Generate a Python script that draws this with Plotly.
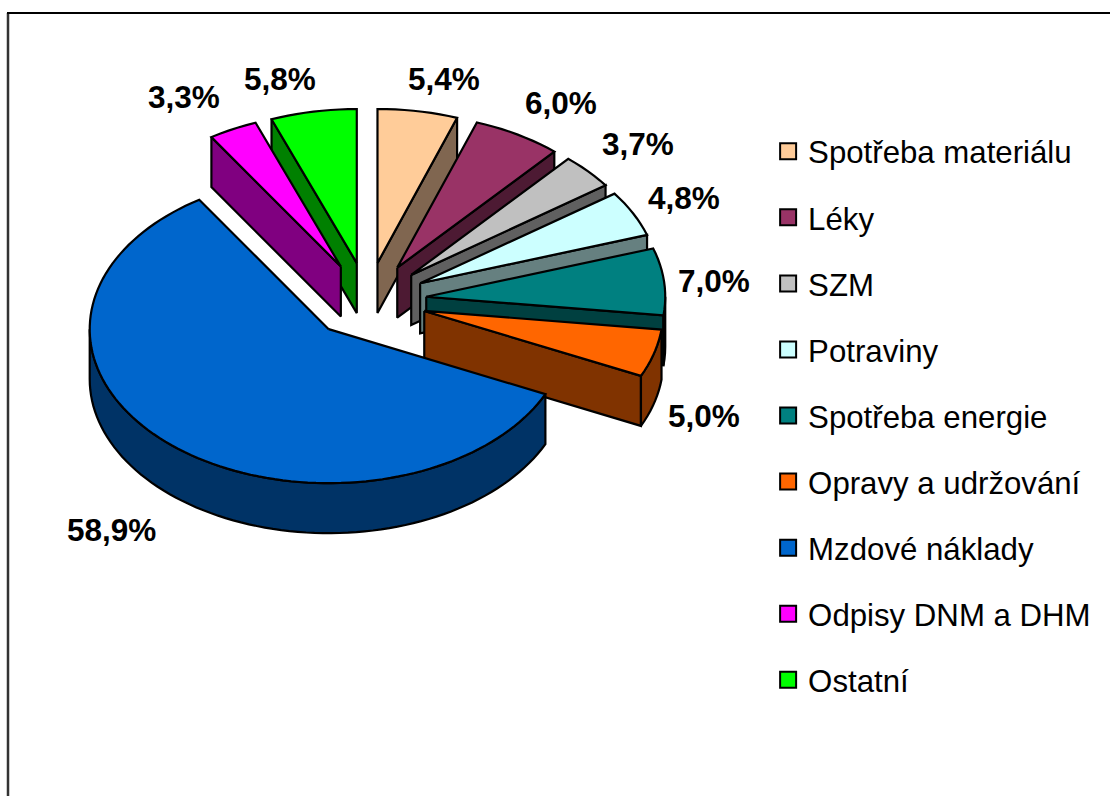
import math
import plotly.graph_objects as go

categories = ["Spotřeba materiálu", "Léky", "SZM", "Potraviny", "Spotřeba energie",
              "Opravy a udržování", "Mzdové náklady", "Odpisy DNM a DHM", "Ostatní"]
values = [5.4, 6.0, 3.7, 4.8, 7.0, 5.0, 58.9, 3.3, 5.8]
colors = ["#FFCC99", "#993366", "#C0C0C0", "#CCFFFF", "#008080",
          "#FF6600", "#0066CC", "#FF00FF", "#00FF00"]
wall_colors = ["#806650", "#4D1A33", "#606060", "#668080", "#004040",
               "#803300", "#003366", "#800080", "#008000"]
label_positions = [(444, 79), (561, 103), (638, 144), (684, 198), (714, 281),
                   (704, 416), (111, 530), (184, 97), (280, 79)]

CX, CY, RX, RY, DEPTH, EXPLODE = 367.5, 300.5, 239, 154, 50, 0.247
FONT = "Liberation Sans, Arial, sans-serif"


def pt(cx, cy, deg, dz=0):
    a = math.radians(deg)
    return cx + RX * math.sin(a), cy - RY * math.cos(a) + dz


def arc(cx, cy, a0, a1, dz=0):
    n = max(2, int(abs(a1 - a0) / 2))
    return [pt(cx, cy, a0 + (a1 - a0) * i / n, dz) for i in range(n + 1)]


fig = go.Figure()


def poly(points, fill, name):
    xs = [p[0] for p in points] + [points[0][0]]
    ys = [p[1] for p in points] + [points[0][1]]
    fig.add_trace(go.Scatter(x=xs, y=ys, mode="lines", fill="toself", fillcolor=fill,
                             line=dict(color="black", width=2.2, simplify=False),
                             showlegend=False, hoverinfo="name", name=name))


total = sum(values)
slices = []
cum = 0.0
for i, v in enumerate(values):
    a0 = cum / total * 360
    a1 = (cum + v) / total * 360
    mid = (a0 + a1) / 2
    m = math.radians(mid)
    cx = CX + EXPLODE * RX * math.sin(m)
    cy = CY - EXPLODE * RY * math.cos(m)
    slices.append((i, a0, a1, cx, cy))
    cum += v

# painter's order: back-left slices, then right-hand slices from back to front, big slice last
order = [8, 7, 0, 1, 2, 3, 4, 5, 6]
for i in order:
    _, a0, a1, cx, cy = slices[i]
    name = categories[i]
    wall = wall_colors[i]
    # radial walls facing the viewer
    if a0 >= 180:
        p = pt(cx, cy, a0)
        poly([(cx, cy), p, (p[0], p[1] + DEPTH), (cx, cy + DEPTH)], wall, name)
    if a1 <= 180:
        p = pt(cx, cy, a1)
        poly([(cx, cy), p, (p[0], p[1] + DEPTH), (cx, cy + DEPTH)], wall, name)
    # outer curved wall
    lo, hi = max(a0, 90), min(a1, 270)
    if lo < hi:
        poly(arc(cx, cy, lo, hi) + arc(cx, cy, hi, lo, DEPTH), wall, name)
    # top face
    poly([(cx, cy)] + arc(cx, cy, a0, a1), colors[i], name)

# legend entries
for name, c in zip(categories, colors):
    fig.add_trace(go.Scatter(x=[None], y=[None], mode="markers", name=name, legendgroup=name,
                             marker=dict(symbol="square", size=17, color=c,
                                         line=dict(color="black", width=2))))

for v, (lx, ly) in zip(values, label_positions):
    fig.add_annotation(x=lx, y=ly, text=f"{v:.1f}%".replace(".", ","), showarrow=False,
                       xanchor="center", yanchor="middle",
                       font=dict(family=FONT, size=31.5, color="black", weight="bold"))

fig.add_shape(type="line", x0=8, x1=8, y0=13, y1=796, line=dict(color="#333333", width=2.5))
fig.add_shape(type="line", x0=7, x1=1110, y0=13, y1=13, line=dict(color="black", width=2))

fig.update_layout(
    width=1110, height=796, margin=dict(l=0, r=0, t=0, b=0),
    paper_bgcolor="white", plot_bgcolor="white",
    xaxis=dict(range=[0, 1110], visible=False, fixedrange=True),
    yaxis=dict(range=[796, 0], visible=False, fixedrange=True),
    font=dict(family=FONT, color="black"),
    legend=dict(x=0.692, y=1 - 124.5 / 796, xanchor="left", yanchor="top",
                font=dict(family=FONT, size=31.2, color="black"),
                tracegroupgap=22.5, bgcolor="rgba(0,0,0,0)", itemclick=False, itemdoubleclick=False),
)

fig.write_html("out.html", config={"displayModeBar": False},
               post_script="document.body.style.margin='0';")
